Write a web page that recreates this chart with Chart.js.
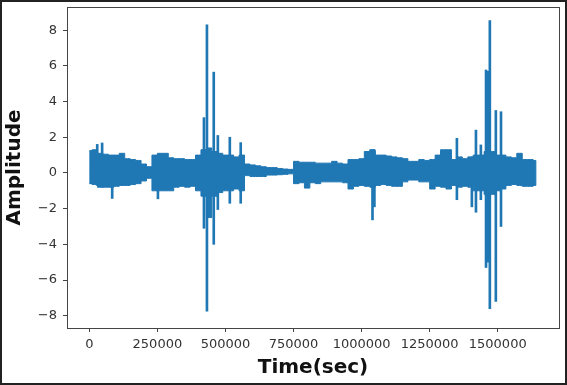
<!DOCTYPE html>
<html>
<head>
<meta charset="utf-8">
<script src="https://cdn.jsdelivr.net/npm/chart.js@4.4.1/dist/chart.umd.min.js"></script>
<style>
    html, body { margin: 0; padding: 0; background: #fff; }
    #wrap { width: 567px; height: 385px; position: relative; }
</style>
</head>
<body>
<div id="wrap"><canvas id="grafica" width="567" height="385"></canvas></div>
<script>
// body of the signal: one slot every 20000 samples
const tiempos = [
    0, 20000, 40000, 60000, 80000, 100000, 120000, 140000, 160000, 180000,
    200000, 220000, 240000, 260000, 280000, 300000, 320000, 340000, 360000, 380000,
    400000, 420000, 440000, 460000, 480000, 500000, 520000, 540000, 560000, 580000,
    600000, 620000, 640000, 660000, 680000, 700000, 720000, 740000, 760000, 780000,
    800000, 820000, 840000, 860000, 880000, 900000, 920000, 940000, 960000, 980000,
    1000000, 1020000, 1040000, 1060000, 1080000, 1100000, 1120000, 1140000, 1160000, 1180000,
    1200000, 1220000, 1240000, 1260000, 1280000, 1300000, 1320000, 1340000, 1360000, 1380000,
    1400000, 1420000, 1440000, 1460000, 1480000, 1500000, 1520000, 1540000, 1560000, 1580000,
    1600000, 1620000, 1640000
];

// upper edge of the body in each slot
const cuerpoAlto = [
    1.25, 1.3, 1.1, 1.05, 1.0, 1.0, 1.1, 0.8, 0.75, 0.7,
    0.5, 0.35, 1.0, 1.1, 1.1, 0.85, 0.8, 0.8, 0.75, 0.75,
    1.0, 1.3, 1.4, 1.2, 1.1, 1.0, 1.0, 0.9, 1.0, 0.5,
    0.45, 0.4, 0.35, 0.3, 0.3, 0.25, 0.22, 0.2, 0.65, 0.6,
    0.6, 0.6, 0.55, 0.55, 0.55, 0.65, 0.55, 0.5, 0.75, 0.75,
    0.8, 1.2, 1.3, 1.0, 1.0, 0.95, 0.9, 0.85, 0.8, 0.65,
    0.65, 0.75, 0.7, 0.75, 1.0, 1.3, 1.3, 0.75, 0.9, 0.8,
    0.9, 1.0, 1.0, 1.2, 1.2, 1.0, 1.0, 0.9, 0.85, 1.1,
    0.75, 0.75, 0.7
];

// lower edge of the body in each slot
const cuerpoBajo = [
    -0.6, -0.65, -0.8, -0.8, -0.8, -0.75, -0.7, -0.7, -0.65, -0.6,
    -0.45, -0.3, -1.0, -1.0, -1.0, -1.0, -0.8, -0.75, -0.8, -0.75,
    -1.0, -1.3, -2.5, -1.3, -1.1, -1.0, -1.0, -0.9, -1.0, -0.15,
    -0.2, -0.2, -0.2, -0.12, -0.12, -0.1, -0.08, -0.05, -0.6, -0.55,
    -0.85, -0.55, -0.6, -0.5, -0.5, -0.5, -0.5, -0.55, -0.9, -0.75,
    -0.7, -0.75, -0.8, -0.7, -0.65, -0.7, -0.75, -0.75, -0.5, -0.4,
    -0.4, -0.5, -0.5, -0.9, -0.75, -0.8, -0.9, -0.7, -0.8, -0.75,
    -0.8, -1.0, -1.0, -1.2, -1.2, -1.0, -0.9, -0.7, -0.65, -0.7,
    -0.75, -0.75, -0.7
];

// isolated spikes: time, top and bottom
const picosTiempo = [
    29000, 47000, 84000, 252000, 421000, 432000, 457000, 472000, 516000, 556000,
    1040000, 1047000, 1350000, 1405000, 1420000, 1438000, 1457000, 1464000, 1471000, 1493000,
    1512000
];
const picosAlto = [
    1.6, 1.68, 0.9, 1.0, 3.1, 8.3, 5.65, 2.1, 2.0, 1.7,
    1.3, 1.2, 1.94, 0.9, 2.4, 1.57, 5.77, 5.7, 8.54, 3.5,
    3.43
];
const picosBajo = [
    -0.7, -0.8, -1.43, -1.45, -3.1, -7.75, -4.0, -2.05, -1.7, -1.7,
    -2.63, -1.9, -1.5, -1.9, -2.2, -1.5, -5.3, -5.0, -7.6, -7.2,
    -3.0
];

const ticksX = [0, 250000, 500000, 750000, 1000000, 1250000, 1500000];
const ticksY = [-8, -6, -4, -2, 0, 2, 4, 6, 8];
const limitesX = [-82000, 1725000];
const limitesY = [-8.69, 9.3];

// outline of the body: along the upper edge, then back along the lower edge
const contorno = tiempos.map((t, i) => ({ x: t, y: cuerpoAlto[i] }));
for (let i = tiempos.length - 1; i >= 0; i--) {
    contorno.push({ x: tiempos[i], y: cuerpoBajo[i] });
}
const picos = picosTiempo.map((t, i) => ({ x: t, y: [picosBajo[i], picosAlto[i]] }));

const marco = {
    id: 'marco',
    afterDraw(chart) {
        const ctx = chart.ctx;
        const a = chart.chartArea;
        ctx.save();
        ctx.strokeStyle = '#444';
        ctx.lineWidth = 1;
        ctx.strokeRect(Math.round(a.left) + 0.5, Math.round(a.top) + 0.5,
            Math.round(a.right - a.left), Math.round(a.bottom - a.top));
        ctx.strokeStyle = '#222';
        ctx.lineWidth = 2;
        ctx.strokeRect(1, 1, chart.width - 2, chart.height - 2);
        ctx.restore();
    }
};

const azul = '#1f77b4';
const fuenteTicks = { family: 'DejaVu Sans', size: 13 };
const fuenteTitulo = { family: 'DejaVu Sans', size: 20, weight: 'bold' };

new Chart(document.getElementById('grafica'), {
    data: {
        datasets: [{
            type: 'line',
            data: contorno,
            borderColor: azul,
            backgroundColor: azul,
            borderWidth: 1,
            pointRadius: 0,
            stepped: 'middle',
            fill: 'shape'
        }, {
            type: 'bar',
            data: picos,
            backgroundColor: azul,
            borderWidth: 0,
            barThickness: 2,
            grouped: false
        }]
    },
    options: {
        responsive: false,
        animation: false,
        layout: { padding: { top: 7, right: 8, left: 0, bottom: 0 } },
        plugins: { legend: { display: false }, tooltip: { enabled: false } },
        scales: {
            x: {
                type: 'linear',
                offset: false,
                min: limitesX[0],
                max: limitesX[1],
                afterBuildTicks: scale => { scale.ticks = ticksX.map(v => ({ value: v })); },
                afterFit: scale => {
                    scale.height = 57;
                    scale.paddingLeft = 0; scale.paddingRight = 0;
                },
                grid: { display: true, offset: false, drawOnChartArea: false, tickLength: 4, color: '#444' },
                border: { display: false },
                ticks: {
                    font: fuenteTicks, color: '#333', padding: 5, maxRotation: 0,
                    callback: v => String(v)
                },
                title: { display: true, text: 'Time(sec)', font: fuenteTitulo, color: '#111', padding: { top: 0, bottom: 5 } }
            },
            y: {
                type: 'linear',
                min: limitesY[0],
                max: limitesY[1],
                afterBuildTicks: scale => { scale.ticks = ticksY.map(v => ({ value: v })); },
                afterFit: scale => {
                    scale.width = 67;
                    scale.paddingTop = 0; scale.paddingBottom = 0;
                },
                grid: { display: true, drawOnChartArea: false, tickLength: 4, color: '#444' },
                border: { display: false },
                ticks: {
                    font: fuenteTicks, color: '#333', padding: 6,
                    callback: v => (v < 0 ? '\u2212' + Math.abs(v) : String(v))
                },
                title: { display: true, text: 'Amplitude', font: fuenteTitulo, color: '#111', padding: { top: 3, bottom: 0 } }
            }
        }
    },
    plugins: [marco]
});
</script>
</body>
</html>
